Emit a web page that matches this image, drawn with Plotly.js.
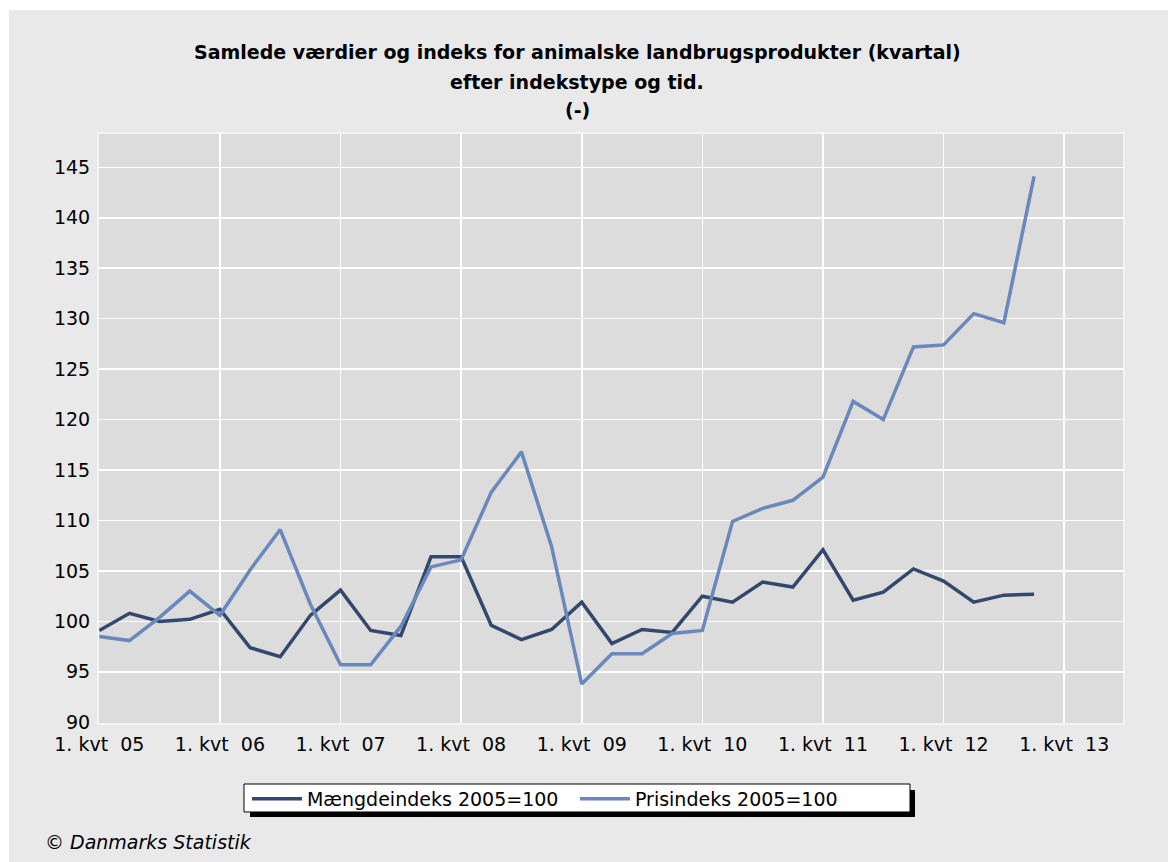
<!DOCTYPE html>
<html>
<head>
<meta charset="utf-8">
<script src="https://cdn.plot.ly/plotly-3.0.1.min.js"></script>
<style>
html,body{margin:0;padding:0;background:#ffffff;}
#chart{position:absolute;left:9px;top:10px;width:1159px;height:852px;}
</style>
</head>
<body>
<div id="chart"></div>
<script>
// Quarters 2005K1 .. 2012K4
const quarters = [
  "2005K1","2005K2","2005K3","2005K4",
  "2006K1","2006K2","2006K3","2006K4",
  "2007K1","2007K2","2007K3","2007K4",
  "2008K1","2008K2","2008K3","2008K4",
  "2009K1","2009K2","2009K3","2009K4",
  "2010K1","2010K2","2010K3","2010K4",
  "2011K1","2011K2","2011K3","2011K4",
  "2012K1","2012K2","2012K3","2012K4"
];
const maengdeindeks = [
  99.1, 100.8, 100.0, 100.2,
  101.2, 97.4, 96.5, 100.6,
  103.1, 99.1, 98.6, 106.4,
  106.4, 99.6, 98.2, 99.2,
  101.9, 97.8, 99.2, 98.9,
  102.5, 101.9, 103.9, 103.4,
  107.1, 102.1, 102.9, 105.2,
  104.0, 101.9, 102.6, 102.7
];
const prisindeks = [
  98.5, 98.1, 100.4, 103.0,
  100.6, 105.1, 109.1, 101.7,
  95.7, 95.7, 99.5, 105.4,
  106.1, 112.8, 116.8, 107.4,
  93.8, 96.8, 96.8, 98.8,
  99.1, 109.9, 111.2, 112.0,
  114.3, 121.8, 120.0, 127.2,
  127.4, 130.5, 129.6, 144.1
];
const seriesNames = ["Mængdeindeks 2005=100", "Prisindeks 2005=100"];
const xTickLabels = ["05","06","07","08","09","10","11","12","13"];
const yTicks = [90,95,100,105,110,115,120,125,130,135,140,145];
const titleLines = [
  "Samlede værdier og indeks for animalske landbrugsprodukter (kvartal)",
  "efter indekstype og tid.",
  "(-)"
];
const sourceText = "© Danmarks Statistik";

const xIdx = quarters.map((q, i) => i);
const xTickVals = xTickLabels.map((t, i) => i * 4);
const xTickText = xTickLabels.map(t => "1.\u00a0kvt\u00a0\u00a0" + t);

const FONT = "DejaVu Sans, Verdana, sans-serif";

const traces = [
  {x: xIdx, y: maengdeindeks, type: "scatter", mode: "lines", name: seriesNames[0],
   line: {color: "#34486e", width: 3.5}},
  {x: xIdx, y: prisindeks, type: "scatter", mode: "lines", name: seriesNames[1],
   line: {color: "#6a88bb", width: 3.5}}
];

const titleY = [1.139, 1.088, 1.041];
const annotations = titleLines.map((t, i) => ({
  text: t, xref: "paper", yref: "paper", x: 0.4668, y: titleY[i],
  xanchor: "center", yanchor: "middle", showarrow: false,
  font: {family: FONT, size: 19, color: "#000000", weight: "bold"}
}));
annotations.push({
  text: sourceText, xref: "paper", yref: "paper", x: -0.0547, y: -0.202,
  xanchor: "left", yanchor: "middle", showarrow: false,
  font: {family: FONT, size: 19, color: "#000000", style: "italic"}
});

const layout = {
  width: 1159, height: 852,
  margin: {l: 90, r: 45, t: 124, b: 139, pad: 0},
  paper_bgcolor: "#e9e9e9",
  plot_bgcolor: "#dcdcdc",
  font: {family: FONT, size: 19, color: "#000000"},
  showlegend: true,
  legend: {
    orientation: "h", x: 0.1445, xanchor: "left", y: -0.0966, yanchor: "top",
    bgcolor: "rgba(0,0,0,0)", borderwidth: 0,
    font: {family: FONT, size: 19, color: "#000000"},
    itemwidth: 50, entrywidth: 263, tracegroupgap: 0
  },
  xaxis: {
    type: "linear", range: [-0.01, 33.95],
    tickmode: "array", tickvals: xTickVals, ticktext: xTickText,
    showgrid: true, gridcolor: "#ffffff", gridwidth: 1.5,
    zeroline: false, showline: true, linecolor: "#f4f4f4", linewidth: 2, mirror: true,
    ticks: "", tickfont: {family: FONT, size: 19, color: "#000000"},
    ticklabelstandoff: 3,
    fixedrange: true
  },
  yaxis: {
    range: [89.93, 148.3],
    tickmode: "array", tickvals: yTicks,
    showgrid: true, gridcolor: "#ffffff", gridwidth: 1.5,
    zeroline: false, showline: true, linecolor: "#f4f4f4", linewidth: 2, mirror: true,
    ticks: "", tickfont: {family: FONT, size: 19, color: "#000000"},
    ticklabelstandoff: 3,
    fixedrange: true
  },
  annotations: annotations,
  shapes: [
    {type: "rect", xref: "paper", yref: "paper", layer: "below",
     x0: 0.1475, x1: 0.7969, y0: -0.1138, y1: -0.1596,
     fillcolor: "#000000", line: {width: 0}},
    {type: "rect", xref: "paper", yref: "paper", layer: "below",
     x0: 0.1416, x1: 0.7920, y0: -0.10357, y1: -0.1511,
     fillcolor: "#ffffff", line: {color: "#000000", width: 1}}
  ]
};

Plotly.newPlot("chart", traces, layout, {displayModeBar: false, staticPlot: true});
</script>
</body>
</html>
